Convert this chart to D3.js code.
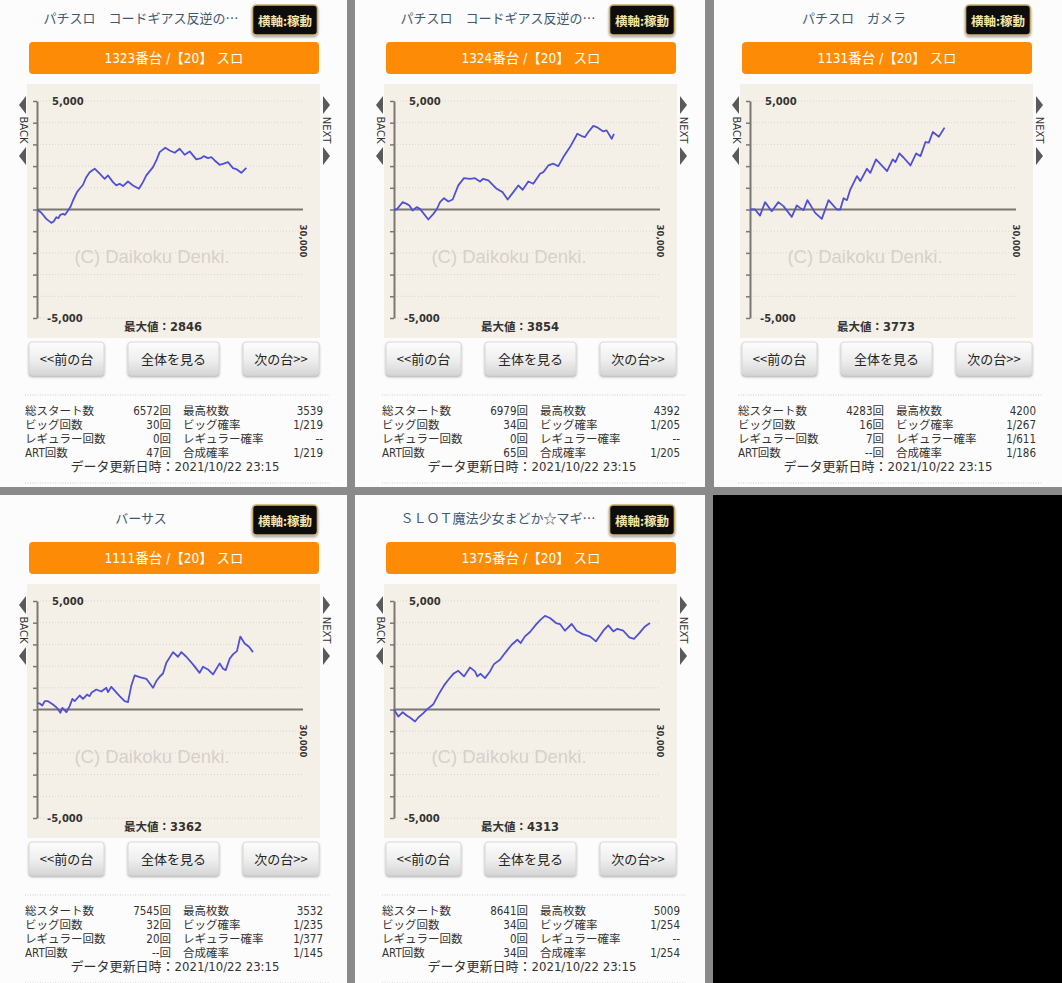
<!DOCTYPE html>
<html><head><meta charset="utf-8">
<script src="https://cdn.jsdelivr.net/npm/d3@7"></script>
<style>html,body{margin:0;padding:0;background:#8a8a8a;}svg{display:block;}</style>
</head><body>
<script>
// ---------- data ----------
const titles = ["パチスロ　コードギアス反逆の…","パチスロ　コードギアス反逆の…","パチスロ　ガメラ","バーサス","ＳＬＯＴ魔法少女まどか☆マギ…"];
const machines = ["1323","1324","1131","1111","1375"];
const maxVals = [2846,3854,3773,3362,4313];
const totalStarts = ["6572回","6979回","4283回","7545回","8641回"];
const maxCoins = ["3539","4392","4200","3532","5009"];
const bigCounts = ["30回","34回","16回","32回","34回"];
const bigProb = ["1/219","1/205","1/267","1/235","1/254"];
const regCounts = ["0回","0回","7回","20回","0回"];
const regProb = ["--","--","1/611","1/377","--"];
const artCounts = ["47回","65回","--回","--回","34回"];
const combProb = ["1/219","1/205","1/186","1/145","1/254"];
const updateTime = "2021/10/22 23:15";
const yTicks = [5000,4000,3000,2000,1000,0,-1000,-2000,-3000,-4000,-5000];
const xMax = 30000;

const series1323 = [[0,0],[490,-150],[1050,-430],[1620,-615],[1880,-555],[2180,-355],[2410,-400],[2630,-245],[2930,-200],[3160,-245],[3500,-45],[3760,110],[4060,415],[4510,800],[4810,955],[5190,1140],[5560,1490],[5940,1720],[6500,1880],[7070,1650],[7630,1415],[8010,1570],[8570,1260],[8950,1110],[9320,1185],[9700,1080],[10260,1290],[10830,1110],[11500,955],[11950,1260],[12330,1570],[13080,1955],[13460,2260],[13830,2645],[14470,2846],[14960,2720],[15530,2615],[16090,2800],[16650,2525],[17220,2675],[17970,2310],[18530,2370],[18800,2460],[19280,2370],[19660,2415],[20040,2260],[20600,2060],[21050,2110],[21540,2185],[22100,1910],[22550,1845],[23040,1690],[23610,1920]];
const series1324 = [[0,0],[300,0],[980,340],[1430,260],[1730,185],[2100,-45],[2560,110],[2930,30],[3870,-460],[4440,-200],[4810,0],[5190,340],[5640,520],[6130,370],[6620,460],[7250,1110],[7890,1445],[8570,1415],[9130,1445],[9700,1290],[10070,1415],[10640,1340],[11580,955],[12250,800],[12820,460],[13460,800],[14020,1110],[14510,910],[15150,1290],[15710,1185],[16470,1645],[16840,1720],[17400,2030],[17970,2110],[18530,2000],[19100,2415],[19850,2875],[20680,3490],[21160,3385],[21540,3340],[21920,3570],[22480,3854],[22860,3800],[23610,3600],[23980,3645],[24550,3260],[24810,3490]];
const series1131 = [[0,0],[565,0],[1130,-280],[1700,340],[2450,-80],[3200,340],[3770,155],[4710,-340],[5280,185],[5650,75],[6030,-30],[6480,430],[7350,-155],[8100,-430],[8860,430],[9800,0],[10180,0],[10550,520],[10930,430],[11310,920],[12060,1540],[12440,1310],[13190,1880],[13570,1690],[14210,2310],[15460,1770],[16100,2310],[16400,2185],[16850,2585],[17340,2385],[18100,2030],[18740,2585],[19230,2460],[19790,3110],[20170,3080],[20620,3570],[21300,3355],[21940,3773]];
const series1111 = [[0,280],[300,280],[600,185],[870,385],[1240,385],[1800,230],[2260,75],[2630,-155],[2860,75],[3310,-125],[3680,155],[3990,490],[4250,385],[4810,645],[5190,490],[5640,690],[5940,615],[6130,770],[6690,920],[7250,830],[7820,1000],[8010,800],[8380,1045],[9320,615],[9890,385],[10260,340],[10640,1110],[11010,1570],[11580,1490],[12330,1415],[13080,1000],[13460,1310],[13830,1510],[14210,1660],[14590,2155],[15340,2645],[15900,2430],[16280,2645],[16840,2430],[17590,2080],[18340,1690],[18720,1970],[19280,1845],[19850,1615],[20600,2125],[20980,1875],[21280,1815],[21730,2340],[22100,2540],[22550,2690],[22930,3362],[23420,3045],[23910,2890],[24360,2645]];
const series1375 = [[0,0],[490,-325],[980,-125],[1430,-275],[1800,-370],[2370,-555],[2740,-370],[3310,-170],[3760,15],[4440,245],[5000,675],[5640,1110],[6130,1370],[6690,1645],[7250,1785],[7890,1525],[8570,1940],[9130,1755],[9400,1525],[9770,1645],[10260,1445],[10830,1755],[11280,2090],[11950,2290],[12520,2600],[13270,2985],[13910,3215],[14290,3060],[14770,3370],[15340,3570],[16010,3910],[16540,4140],[17030,4313],[17590,4215],[18270,3985],[18720,3940],[19280,3630],[20040,3940],[20600,3630],[21280,3475],[22100,3370],[22780,3140],[23610,3630],[24170,3880],[24740,3600],[25190,3720],[25860,3630],[26540,3320],[27070,3260],[27670,3520],[28310,3830],[28870,3985]];
const allSeries = [series1323, series1324, series1131, series1111, series1375];

// ---------- layout ----------
const W = 1062, H = 983;
const svg = d3.select("body").append("svg").attr("width", W).attr("height", H);
const defs = svg.append("defs");
const g1 = defs.append("linearGradient").attr("id","btnGrad").attr("x1",0).attr("y1",0).attr("x2",0).attr("y2",1);
g1.append("stop").attr("offset","0%").attr("stop-color","#fdfdfd");
g1.append("stop").attr("offset","55%").attr("stop-color","#eeeeee");
g1.append("stop").attr("offset","100%").attr("stop-color","#d6d6d6");
const f = defs.append("filter").attr("id","shadow").attr("x","-20%").attr("y","-20%").attr("width","140%").attr("height","160%");
f.append("feDropShadow").attr("dx",0).attr("dy",1.5).attr("stdDeviation",1.2).attr("flood-color","#000").attr("flood-opacity",0.35);

svg.append("rect").attr("width",W).attr("height",H).attr("fill","#8a8a8a");
const colBounds = [[0,347],[355,705],[714,1062]];
const rowBounds = [[0,487],[495,983]];
rowBounds.forEach((rb,ri)=>colBounds.forEach((cb,ci)=>{
  const black = (ri===1 && ci===2);
  svg.append("rect").attr("x",cb[0]).attr("y",rb[0]).attr("width",cb[1]-cb[0]).attr("height",rb[1]-rb[0])
    .attr("fill", black ? "#000" : "#fdfcfd");
}));
svg.append("rect").attr("x",713).attr("y",495).attr("width",W-713).attr("height",H-495).attr("fill","#000");

const origins = [[0,0],[357,0],[713,0],[0,500],[357,500]];
const jp = "'Noto Sans CJK JP', sans-serif";
const narrow = "'Liberation Sans Narrow','DejaVu Sans Condensed','Noto Sans CJK JP', sans-serif";

function panel(i){
  const [ox, oy] = origins[i];
  const g = svg.append("g").attr("transform",`translate(${ox},${oy})`);
  // title
  g.append("text").attr("x",141).attr("y",17).attr("text-anchor","middle").attr("dominant-baseline","central")
    .attr("font-family",jp).attr("font-size",13).attr("fill","#3d5873").text(titles[i]);
  // 横軸 button
  g.append("rect").attr("x",252.5).attr("y",5).attr("width",65).attr("height",30).attr("rx",4)
    .attr("fill","#0d0d0d").attr("stroke","#c9b072").attr("stroke-width",1.6).attr("filter","url(#shadow)");
  g.append("text").attr("x",285).attr("y",20.5).attr("text-anchor","middle").attr("dominant-baseline","central")
    .attr("font-family",jp).attr("font-weight","bold").attr("font-size",12.5).attr("fill","#f4e4a6").text("横軸:稼動");
  // orange bar
  g.append("rect").attr("x",29).attr("y",42).attr("width",290).attr("height",32).attr("rx",4).attr("fill","#fd8b05");
  g.append("text").attr("x",174).attr("y",58).attr("text-anchor","middle").attr("dominant-baseline","central")
    .attr("font-family",narrow).attr("font-size",13.5).attr("fill","#fff").text(machines[i]+"番台 /【20】 スロ");
  // graph background
  g.append("rect").attr("x",27).attr("y",84).attr("width",293).attr("height",254).attr("fill","#f5f0e7");

  const x = d3.scaleLinear().domain([0,xMax]).range([37,303]);
  const y = d3.scaleLinear().domain([-5000,5000]).range([318,101]);

  // grid lines
  g.append("g").selectAll("line").data(yTicks.filter(t=>t!==0)).join("line")
    .attr("x1",x(0)).attr("x2",x(xMax)).attr("y1",d=>y(d)).attr("y2",d=>y(d))
    .attr("stroke","#d9d4cc").attr("stroke-width",1).attr("stroke-dasharray","1,2");
  // watermark
  g.append("text").attr("x",152).attr("y",256).attr("text-anchor","middle").attr("dominant-baseline","central")
    .attr("font-family","'Liberation Sans', Arial, sans-serif").attr("font-size",18.5).attr("fill","#d6d1cb").text("(C) Daikoku Denki.");
  // zero line
  g.append("line").attr("x1",x(0)).attr("x2",x(xMax)).attr("y1",y(0)).attr("y2",y(0))
    .attr("stroke","#7a7773").attr("stroke-width",2);
  // y axis
  const ax = g.append("g").attr("transform",`translate(${x(0)},0)`)
    .call(d3.axisLeft(y).tickValues(yTicks).tickSizeInner(4).tickSizeOuter(0).tickFormat(()=>""));
  ax.select(".domain").attr("stroke","#7a7773").attr("stroke-width",2);
  ax.selectAll(".tick line").attr("stroke","#7a7773").attr("stroke-width",1.5);
  // labels
  g.append("text").attr("x",52).attr("y",y(5000)).attr("dominant-baseline","central")
    .attr("font-family","'DejaVu Sans', sans-serif").attr("font-weight","bold").attr("font-size",10).attr("fill","#333").text("5,000");
  g.append("text").attr("x",47).attr("y",y(-5000)).attr("dominant-baseline","central")
    .attr("font-family","'DejaVu Sans', sans-serif").attr("font-weight","bold").attr("font-size",10).attr("fill","#333").text("-5,000");
  g.append("text").attr("transform",`translate(${x(xMax)},241) rotate(90)`).attr("text-anchor","middle").attr("dominant-baseline","central")
    .attr("font-family","'DejaVu Sans Condensed','DejaVu Sans', sans-serif").attr("font-weight","bold").attr("font-size",9.5).attr("fill","#333").text("30,000");
  // series line
  g.append("path").datum(allSeries[i]).attr("fill","none").attr("stroke","#5050d6").attr("stroke-width",1.8)
    .attr("stroke-linejoin","round")
    .attr("d", d3.line().x(d=>x(d[0])).y(d=>y(d[1])));
  // max label
  g.append("text").attr("x",163).attr("y",327).attr("text-anchor","middle").attr("dominant-baseline","central")
    .attr("font-family","'DejaVu Sans','Noto Sans CJK JP', sans-serif").attr("font-weight","bold").attr("font-size",11.5).attr("fill","#333").text("最大値："+maxVals[i]);
  // BACK / NEXT
  const arrow = (cx, dir, cy) => {
    const p = dir<0 ? `M${cx-4},${cy} L${cx+3},${cy-9} L${cx+3},${cy+9} Z` : `M${cx+4},${cy} L${cx-3},${cy-9} L${cx-3},${cy+9} Z`;
    g.append("path").attr("d",p).attr("fill","#5a5a5a");
  };
  arrow(23,-1,105); arrow(23,-1,156);
  arrow(326,1,105); arrow(326,1,156);
  g.append("text").attr("transform","translate(23,130) rotate(90)").attr("text-anchor","middle").attr("dominant-baseline","central")
    .attr("font-family","'DejaVu Sans', sans-serif").attr("font-size",10).attr("fill","#333").text("BACK");
  g.append("text").attr("transform","translate(326,130) rotate(90)").attr("text-anchor","middle").attr("dominant-baseline","central")
    .attr("font-family","'DejaVu Sans', sans-serif").attr("font-size",10).attr("fill","#333").text("NEXT");
  // buttons
  [["<<前の台",29,75],["全体を見る",128,91],["次の台>>",243,76]].forEach(([t,bx,bw])=>{
    g.append("rect").attr("x",bx).attr("y",342).attr("width",bw).attr("height",33).attr("rx",3)
      .attr("fill","url(#btnGrad)").attr("stroke","#d0d0d0").attr("stroke-width",0.8).attr("filter","url(#shadow)");
    g.append("text").attr("x",bx+bw/2).attr("y",358.5).attr("text-anchor","middle").attr("dominant-baseline","central")
      .attr("font-family",jp).attr("font-size",13).attr("fill","#222").text(t);
  });
  // separators
  [395,483].forEach(yy=>g.append("line").attr("x1",25).attr("x2",330).attr("y1",yy).attr("y2",yy)
    .attr("stroke","#cfcfcf").attr("stroke-width",1).attr("stroke-dasharray","1,1.5"));
  // stats
  const rows = [
    ["総スタート数", totalStarts[i], "最高枚数", maxCoins[i]],
    ["ビッグ回数", bigCounts[i], "ビッグ確率", bigProb[i]],
    ["レギュラー回数", regCounts[i], "レギュラー確率", regProb[i]],
    ["ART回数", artCounts[i], "合成確率", combProb[i]]
  ];
  const rowY = [411,425,439,453];
  rows.forEach((r,ri)=>{
    const yy = rowY[ri];
    const st = (sel)=>sel.attr("dominant-baseline","central").attr("font-family",narrow).attr("font-size",11.5).attr("fill","#333");
    st(g.append("text").attr("x",25).attr("y",yy).text(r[0]));
    st(g.append("text").attr("x",171).attr("y",yy).attr("text-anchor","end").text(r[1]));
    st(g.append("text").attr("x",183).attr("y",yy).text(r[2]));
    st(g.append("text").attr("x",323).attr("y",yy).attr("text-anchor","end").text(r[3]));
  });
  g.append("text").attr("x",175).attr("y",466).attr("text-anchor","middle").attr("dominant-baseline","central")
    .attr("font-family",narrow).attr("font-size",13).attr("fill","#333").text("データ更新日時："+updateTime);
}
for (let i=0;i<5;i++) panel(i);
</script>
</body></html>
